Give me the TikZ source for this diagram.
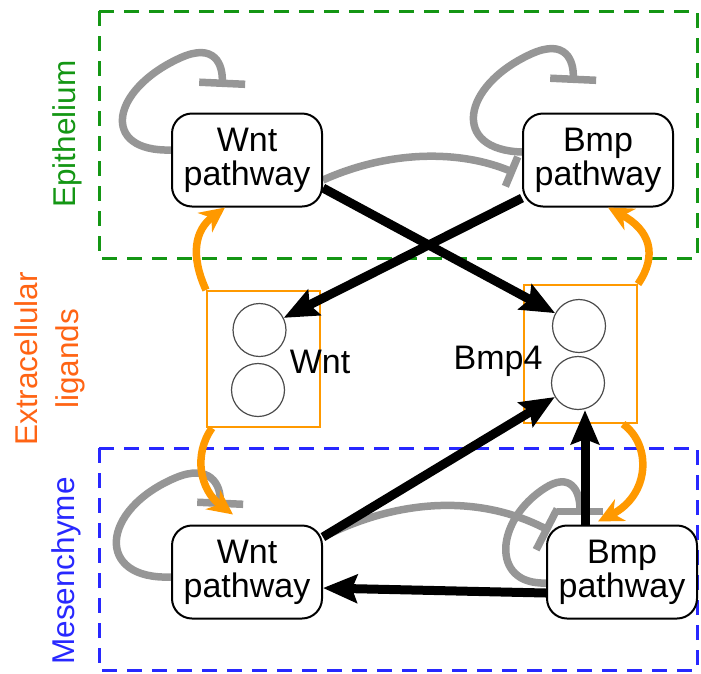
\documentclass[tikz,border=0pt]{standalone}
\usepackage{fontspec}
\setmainfont{Liberation Sans}
\usetikzlibrary{arrows.meta}
\definecolor{epigreen}{RGB}{20,150,20}
\definecolor{mesblue}{RGB}{40,40,255}
\definecolor{ligorange}{RGB}{255,153,0}
\definecolor{labelorange}{RGB}{255,100,20}
\definecolor{inhgray}{RGB}{150,150,150}
\pgfdeclarelayer{back}
\pgfdeclarelayer{links}
\pgfsetlayers{back,links,main}
\begin{document}
\begin{tikzpicture}[x=1pt,y=-1pt,
  pathwaybox/.style={draw=black, line width=2pt, rounded corners=20pt, fill=white,
    minimum width=150pt, minimum height=93pt, inner sep=0pt, align=center,
    font=\fontsize{34}{34}\selectfont},
  ligbox/.style={draw=ligorange, line width=2pt, inner sep=0pt},
  ligand/.style={circle, draw=black!70, line width=1.2pt, fill=white,
    minimum size=53pt, inner sep=0pt},
  liglabel/.style={inner sep=0pt, anchor=base, font=\fontsize{34}{34}\selectfont},
  sidelabel/.style={rotate=90, inner sep=0pt, align=center,
    font=\fontsize{31.5}{40.5}\selectfont},
  regionbox/.style={line width=3pt, dash pattern=on 15pt off 10pt},
  inhib/.style={draw=inhgray, line width=7.5pt, -{Bar[width=#1]}},
  inhib/.default=46pt,
  blk/.style={draw=black, line width=9pt, -{Stealth[length=34pt,width=28pt,inset=5pt]}},
  org/.style={draw=ligorange, line width=7.5pt, -{Stealth[length=25pt,width=24pt,inset=8pt]}}
]
\useasboundingbox (0,0) rectangle (701,673);

% region boxes
\begin{pgfonlayer}{back}
  \draw[regionbox, draw=epigreen] (99,11) rectangle (697,258);
  \draw[regionbox, draw=mesblue] (99,448) rectangle (697,670);
  \node[ligbox, minimum width=113pt, minimum height=136pt] (boxL) at (263.5,359) {};
  \node[ligbox, minimum width=113pt, minimum height=138pt] (boxR) at (580.5,354) {};
\end{pgfonlayer}

% side labels
\node[sidelabel, text=epigreen] (epi) at (67,134) {Epithelium};
\node[sidelabel, text=labelorange] (ecl) at (50,359) {Extracellular\\ligands};
\node[sidelabel, text=mesblue] (mes) at (66,571) {Mesenchyme};

% pathway nodes
\node[pathwaybox] (wntE) at (247,160) {Wnt\\pathway};
\node[pathwaybox] (bmpE) at (598,160) {Bmp\\pathway};
\node[pathwaybox] (wntM) at (247,572) {Wnt\\pathway};
\node[pathwaybox] (bmpM) at (622,572) {Bmp\\pathway};

% ligands
\node[ligand] (cL1) at (259.5,330) {};
\node[ligand] (cL2) at (258,390) {};
\node[ligand] (cR1) at (579,326) {};
\node[ligand] (cR2) at (578,383) {};
\node[liglabel] (wntLab) at (320,373) {Wnt};
\node[liglabel] (bmpLab) at (498,369) {Bmp4};

% inhibition bar end points
\coordinate (barWE) at (222,87);
\coordinate (barBE) at (573,83);
\coordinate (barWM) at (220,507);
\coordinate (barBM) at (580,515);
\coordinate (barWB) at (515,173);
\coordinate (barWBM) at (550,531);

\begin{pgfonlayer}{links}
  % gray self-inhibition loops
  \draw[inhib] ([yshift=10pt]wntE.west) .. controls (100,152) and (110,90) .. (180,58)
     .. controls (215,42) and (223,65) .. (barWE);
  \draw[inhib] ([yshift=8pt]bmpE.west) .. controls (451,150) and (461,86) .. (531,54)
     .. controls (566,38) and (574,61) .. (barBE);
  \draw[inhib] ([yshift=-5pt]wntM.west) .. controls (95,580) and (100,510) .. (175,478)
     .. controls (210,463) and (221,485) .. (barWM);
  \draw[inhib] ([yshift=-11pt]bmpM.west) .. controls (490,585) and (495,520) .. (545,488)
     .. controls (570,472) and (580,490) .. (barBM);
  % gray cross inhibition Wnt -| Bmp
  \draw[inhib=32pt] ([yshift=-20pt]wntE.east) .. controls (390,150) and (460,150) .. (barWB);
  \draw[inhib=46pt] ([yshift=35pt]wntM.east) .. controls (400,498) and (480,495) .. (barWBM);

  % black activations
  \draw[blk] ([yshift=-28pt]wntE.east) -- (cR1);
  \draw[blk] (bmpE) -- (cL1);
  \draw[blk] ([yshift=35pt]wntM.east) -- (cR2);
  \draw[blk] ([xshift=-37pt]bmpM.north) -- ([xshift=-37pt]bmpM.north |- cR2.south);
  \draw[blk] ([yshift=-21pt]bmpM.west) -- ([yshift=-16pt]wntM.east);
\end{pgfonlayer}

% orange ligand arrows
\draw[org] (boxL.north west) .. controls (190,255) and (195,230) .. ([xshift=-22pt]wntE.south);
\draw[org] (boxR.north east) .. controls (658,255) and (650,230) .. ([xshift=10pt]bmpE.south);
\draw[org] ([xshift=6pt]boxL.south west) .. controls (193,455) and (200,490) .. ([xshift=-14pt,yshift=10pt]wntM.north);
\draw[org] ([xshift=-15pt]boxR.south east) .. controls (652,445) and (650,495) .. ([xshift=-24pt,yshift=3pt]bmpM.north);
\end{tikzpicture}
\end{document}
